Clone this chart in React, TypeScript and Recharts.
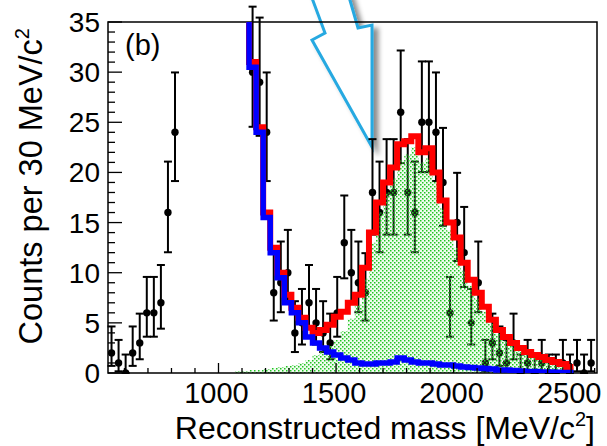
import {
  ComposedChart,
  Line,
  Area,
  Scatter,
  ErrorBar,
  XAxis,
  YAxis,
  ReferenceArea
} from 'recharts';

// binning: 30 MeV bins starting at 530 MeV
const BIN_LOW = 530;
const BIN_WIDTH = 30;
const X_MAX = 2610;

// observed counts per bin (bins 10-19 are off scale)
const counts: (number | null)[] = [
  2, 1, 0, 2, 3, 6, 6, 7, 16, 24,
  null, null, null, null, null, null, null, null, null, null,
  30, 29, 24, 8, 9, 10, 4, 5, 7, 5,
  4, 3, 6, 13, 10, 9, 8, 18, 16, 18,
  18, 26, 18, 16, 25, 25, 24, 19, 6, 15,
  12, 5, 9, 1, 3, 2, 1, 3, 0, 1,
  0, 1, 0, 0, 1, 0, 1, 0, 1
];

// 68% Poisson intervals, indexed by count
const poissonDown = [
  0, 0.83, 1.29, 1.63, 1.91, 2.16, 2.38, 2.58, 2.77, 2.94, 3.11,
  3.27, 3.42, 3.56, 3.7, 3.83, 3.96, 4.08, 4.2, 4.32, 4.43,
  4.55, 4.65, 4.76, 4.86, 4.97, 5.07, 5.16, 5.26, 5.35, 5.45
];
const poissonUp = [
  1.84, 2.3, 2.64, 2.92, 3.16, 3.38, 3.58, 3.77, 3.95, 4.11, 4.27,
  4.42, 4.56, 4.7, 4.83, 4.96, 5.08, 5.2, 5.32, 5.44, 5.55,
  5.66, 5.76, 5.87, 5.97, 6.07, 6.16, 6.26, 6.35, 6.44, 6.53
];

// fitted histograms, bins 18..65
const HIST_FIRST_BIN = 18;
const totalFit = [
  48.5, 38.5, 31, 24.5, 16, 12.5, 10, 7.8, 6.5, 5.5,
  4.5, 4.0, 4.3, 4.8, 5.6, 6.1, 7.0, 7.8, 10.5, 14,
  17, 19, 20.5, 22.8, 23.1, 23.6, 22, 22.4, 20, 17.2,
  15, 13.5, 11, 9.3, 8.0, 6.6, 5.3, 4.3, 3.6, 3.0,
  2.5, 2.1, 1.8, 1.6, 1.3, 1.1, 0.9, 0.6
];
const background = [
  48, 38, 30.5, 24, 15.5, 12, 9.5, 7, 6, 5,
  3.6, 3.0, 2.5, 2.1, 1.8, 1.5, 1.3, 1.0, 0.9, 0.9,
  1.0, 1.0, 1.1, 1.5, 1.3, 1.1, 1.0, 1.0, 0.9, 0.8,
  0.8, 0.7, 0.6, 0.55, 0.5, 0.45, 0.4, 0.3, 0.3, 0.25,
  0.2, 0.15, 0.15, 0.1, 0.1, 0.08, 0.06, 0.05
];
const signal = [
  0.2, 0.2, 0.3, 0.3, 0.4, 0.5, 0.6, 0.7, 0.8, 1.0,
  1.3, 1.8, 2.2, 2.7, 3.3, 4.2, 5.4, 6.8, 9.4, 13,
  16, 18, 19.4, 21.2, 21.8, 22.5, 21, 21.4, 19.1, 16.4,
  14.2, 12.5, 10.2, 8.7, 7.4, 6.1, 4.9, 3.9, 3.2, 2.7,
  2.3, 1.9, 1.6, 1.45, 1.2, 1.0, 0.8, 0.5
];

const xTicks = [
  600, 700, 800, 900, 1000, 1100, 1200, 1300, 1400, 1500, 1600, 1700,
  1800, 1900, 2000, 2100, 2200, 2300, 2400, 2500, 2600
];
const yTicks = [
  0, 1, 2, 3, 4, 5, 6, 7, 8, 9, 10, 11, 12, 13, 14, 15, 16, 17,
  18, 19, 20, 21, 22, 23, 24, 25, 26, 27, 28, 29, 30, 31, 32, 33, 34, 35
];

const PLOT_LEFT = 108;
const PLOT_BOTTOM = 373;
const FONT = '"Liberation Sans", Arial, Helvetica, sans-serif';

function toSteps(values: number[]) {
  const pts = values.map((v, k) => ({
    x: BIN_LOW + (HIST_FIRST_BIN + k) * BIN_WIDTH,
    y: v
  }));
  pts.push({
    x: BIN_LOW + (HIST_FIRST_BIN + values.length) * BIN_WIDTH,
    y: values[values.length - 1]
  });
  return pts;
}

const points = counts
  .map((c, i) =>
    c === null
      ? null
      : { x: BIN_LOW + BIN_WIDTH / 2 + i * BIN_WIDTH, y: c, err: [poissonDown[c], poissonUp[c]] }
  )
  .filter((p) => p !== null);

function XTick(props: any) {
  const v = props.payload.value;
  const major = v % 500 === 0;
  return (
    <g>
      <line x1={props.x} x2={props.x} y1={PLOT_BOTTOM} y2={PLOT_BOTTOM - (major ? 10 : 5)} stroke="#000" strokeWidth={1.3} />
      {major && (
        <text x={props.x - 2} y={403} textAnchor="middle" fontSize={29} fontFamily={FONT} fill="#000">
          {v}
        </text>
      )}
    </g>
  );
}

function YTick(props: any) {
  const v = props.payload.value;
  const major = v % 5 === 0;
  return (
    <g>
      <line x1={PLOT_LEFT} x2={PLOT_LEFT + (major ? 14 : 7)} y1={props.y} y2={props.y} stroke="#000" strokeWidth={1.3} />
      {major && (
        <text x={100} y={props.y + 10} textAnchor="end" fontSize={28} fontFamily={FONT} fill="#000">
          {v}
        </text>
      )}
    </g>
  );
}

const Dot = (props: any) => <circle cx={props.cx} cy={props.cy} r={3.7} fill="#000" />;

export default function App() {
  return (
    <div style={{ position: 'absolute', left: 0, top: 0, width: 607, height: 446, background: '#fff' }}>
      <ComposedChart
        width={607}
        height={446}
        margin={{ top: 22, right: 10, bottom: 0, left: 0 }}
      >
        <defs>
          <pattern id="sigfill" width="4" height="4" patternUnits="userSpaceOnUse">
            <rect x="0" y="0" width="4" height="4" fill="rgba(150,235,150,0.15)" />
            <rect x="0" y="0" width="1.5" height="1.5" fill="#22c422" />
            <rect x="2" y="2" width="1.5" height="1.5" fill="#22c422" />
          </pattern>
          <filter id="shadow" x="-20%" y="-20%" width="140%" height="140%">
            <feDropShadow dx="5" dy="4" stdDeviation="2.5" floodColor="#000" floodOpacity="0.45" />
          </filter>
        </defs>
        <XAxis
          dataKey="x"
          type="number"
          domain={[BIN_LOW, X_MAX]}
          allowDataOverflow
          ticks={xTicks}
          interval={0}
          height={73}
          axisLine={false}
          tickLine={false}
          tick={<XTick />}
        />
        <YAxis
          dataKey="y"
          type="number"
          domain={[0, 35]}
          allowDataOverflow
          ticks={yTicks}
          interval={0}
          width={108}
          axisLine={false}
          tickLine={false}
          tick={<YTick />}
        />
        <Scatter data={points} dataKey="y" shape={<Dot />} isAnimationActive={false} zIndex={50}>
          <ErrorBar dataKey="err" direction="y" width={4} stroke="#000" strokeWidth={2} zIndex={50} />
        </Scatter>
        <Area
          data={toSteps(signal)}
          dataKey="y"
          type="stepAfter"
          stroke="none"
          fill="url(#sigfill)"
          fillOpacity={1}
          dot={false}
          activeDot={false}
          isAnimationActive={false}
          zIndex={100}
        />
        <Line
          data={toSteps(totalFit)}
          dataKey="y"
          type="stepAfter"
          stroke="#ff0000"
          strokeWidth={6}
          strokeLinejoin="miter"
          dot={false}
          activeDot={false}
          isAnimationActive={false}
          zIndex={400}
        />
        <Line
          data={toSteps(background)}
          dataKey="y"
          type="stepAfter"
          stroke="#0000ff"
          strokeWidth={5.5}
          strokeLinejoin="miter"
          dot={false}
          activeDot={false}
          isAnimationActive={false}
          zIndex={410}
        />
        <ReferenceArea x1={BIN_LOW} x2={X_MAX} y1={0} y2={35} fill="none" stroke="#000" strokeWidth={1.5} />
        <text x={125} y={55} fontSize={29} fontFamily={FONT} fill="#000">(b)</text>
        <text x={595} y={439} textAnchor="end" fontSize={32} fontFamily={FONT} fill="#000">
          Reconstructed mass [MeV/c
          <tspan dy={-13} fontSize={20}>2</tspan>
          <tspan dy={13}>]</tspan>
        </text>
        <text
          transform="translate(41.7, 28) rotate(-90)"
          textAnchor="end"
          fontSize={32.5}
          fontFamily={FONT}
          fill="#000"
        >
          Counts per 30 MeV/c
          <tspan dy={-13} fontSize={20}>2</tspan>
        </text>
        <polygon
          points="309,-10 325,33 312,40 372,147 372,25 358,28 347,-10"
          fill="#fff"
          stroke="#27a9e1"
          strokeWidth={3}
          strokeLinejoin="miter"
          filter="url(#shadow)"
        />
      </ComposedChart>
    </div>
  );
}
